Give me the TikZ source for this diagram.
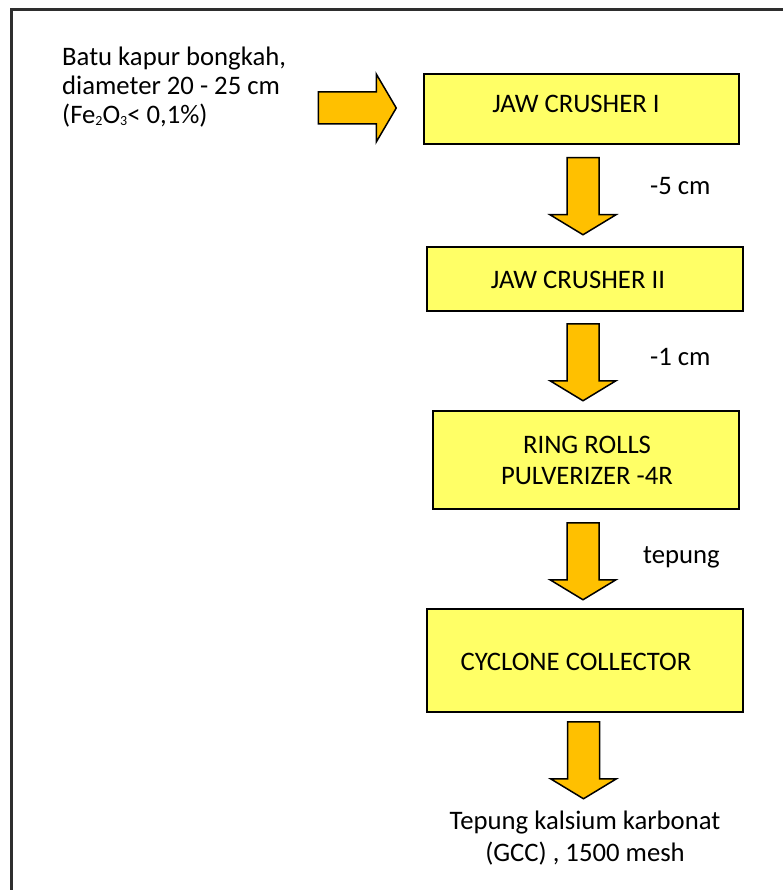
\documentclass[tikz,border=0pt]{standalone}
\usepackage{fontspec}
\setmainfont{Carlito}
\usetikzlibrary{calc}
\definecolor{boxyellow}{HTML}{FFFF66}
\definecolor{arrowgold}{HTML}{FFC000}
\definecolor{framegray}{HTML}{2E2E2E}
\newcommand{\smallsub}[1]{\raisebox{-1.5pt}{\fontsize{14}{14}\selectfont #1}}
\begin{document}
\begin{tikzpicture}[x=1pt,y=-1pt,
  box/.style={draw=black, line width=1.5pt, fill=boxyellow, inner sep=0pt},
  arrowfill/.style={draw=black, line width=1.5pt, fill=arrowgold, line join=miter},
  txt/.style={font=\fontsize{26.7}{31}\selectfont, inner sep=0pt, align=center},
  framestyle/.style={draw=framegray, line width=3pt},
  dnarrow/.pic={\draw[arrowfill] (-16,0) -- (16,0) -- (16,57) -- (33,57) -- (0,77) -- (-33,57) -- (-16,57) -- cycle;},
  rtarrow/.pic={\draw[arrowfill] (0,-16) -- (58,-16) -- (58,-34) -- (78,0) -- (58,34) -- (58,16) -- (0,16) -- cycle;}
]
\useasboundingbox (0,0) rectangle (783,890);
\clip (0,0) rectangle (783,890);
\draw[framestyle] (11.5,900) -- (11.5,9.5) -- (800,9.5);

% process boxes
\node[box, minimum width=315pt, minimum height=70pt] (b1) at (581.5,109) {};
\node[box, minimum width=316pt, minimum height=64pt] (b2) at (585,279) {};
\node[box, minimum width=306pt, minimum height=98pt] (b3) at (586,460) {};
\node[box, minimum width=316pt, minimum height=103pt] (b4) at (585,660.5) {};

% box texts
\node[txt, anchor=base] (t1) at (576,113) {JAW CRUSHER I};
\node[txt, anchor=base] (t2) at (578,288) {JAW CRUSHER II};
\node[txt, anchor=base] (t3a) at (587,453) {RING ROLLS};
\node[txt, anchor=base] (t3b) at (587,484) {PULVERIZER -4R};
\node[txt, anchor=base] (t4) at (576,670) {CYCLONE COLLECTOR};

% input text
\node[txt, anchor=base west] (in1) at (62,66) {Batu kapur bongkah,};
\node[txt, anchor=base west] (in2) at (62,95) {diameter 20 - 25 cm};
\node[txt, anchor=base west] (in3) at (62,124) {(Fe\smallsub{2}O\smallsub{3}< 0,1\%)};

% block arrows
\pic at ($(b1.west)+(-105,-1)$) {rtarrow};
\pic at ($(b1.south)+(1.5,13)$) {dnarrow};
\pic at ($(b2.south)+(-2,12)$) {dnarrow};
\pic at ($(b3.south)+(-3,13)$) {dnarrow};
\pic at ($(b4.south)+(-1.5,9)$) {dnarrow};

% arrow labels
\node[txt, anchor=base west] (l1) at (650,195) {-5 cm};
\node[txt, anchor=base west] (l2) at (650,365) {-1 cm};
\node[txt, anchor=base west] (l3) at (643,563) {tepung};

% output text
\node[txt, anchor=base] (o1) at (585,829) {Tepung kalsium karbonat};
\node[txt, anchor=base] (o2) at (585,861) {(GCC) , 1500 mesh};
\end{tikzpicture}
\end{document}
